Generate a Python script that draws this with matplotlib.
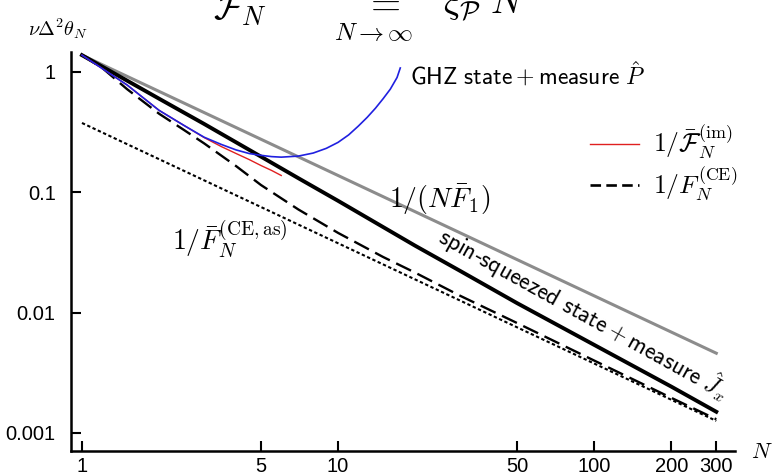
import matplotlib
matplotlib.use('Agg')
import matplotlib.pyplot as plt
from matplotlib.lines import Line2D

plt.rcParams['mathtext.fontset'] = 'cm'
plt.rcParams['font.family'] = ['Liberation Sans', 'DejaVu Sans']

# data (log-log)
n_sql = [1, 300]
v_sql = [1.38, 0.0046]                 # 1/(N F1), grey

n_as = [1, 300]
v_as = [0.377, 0.00126]                # 1/F^(CE,as), dotted

n_ss = [1, 2, 3, 5, 7, 10, 20, 30, 50, 100, 200, 300]
v_ss = [1.38, 0.60, 0.37, 0.198, 0.131, 0.085, 0.036, 0.0222, 0.0120, 0.0054, 0.00243, 0.0015]

n_ce = [1, 1.2, 1.5, 2, 2.5, 3, 4, 5, 7, 10, 15, 20, 30, 50, 100, 200, 300]
v_ce = [1.38, 1.08, 0.72, 0.45, 0.33, 0.255, 0.165, 0.115, 0.072, 0.046, 0.029,
        0.0215, 0.0138, 0.0082, 0.004, 0.00196, 0.0013]

n_im = [1, 1.5, 2, 2.5, 3, 3.5, 4, 4.5, 5, 5.5, 6]
v_im = [1.38, 0.78, 0.48, 0.36, 0.285, 0.24, 0.21, 0.187, 0.167, 0.152, 0.138]

n_ghz = [1, 1.5, 2, 2.5, 3, 3.5, 4, 4.5, 5, 5.5, 6, 7, 8, 9, 10, 11, 12, 13,
         14, 15, 16, 17, 17.5]
v_ghz = [1.38, 0.78, 0.48, 0.36, 0.287, 0.25, 0.225, 0.21, 0.203, 0.198, 0.196,
         0.2, 0.212, 0.232, 0.26, 0.3, 0.355, 0.42, 0.5, 0.6, 0.72, 0.9, 1.08]

x_ticks = [1, 5, 10, 50, 100, 200, 300]
x_labels = ['1', '5', '10', '50', '100', '200', '300']
y_ticks = [1, 0.1, 0.01, 0.001]
y_labels = ['1', '0.1', '0.01', '0.001']

W, H = 778, 476
fig = plt.figure(figsize=(W / 100, H / 100), dpi=100)
ax = fig.add_axes([71 / W, 25 / H, (735 - 71) / W, (451 - 52) / H])

ax.plot(n_sql, v_sql, color='#8c8c8c', lw=2.2, zorder=2)
ax.plot(n_as, v_as, color='black', lw=1.5, linestyle=(0, (1.6, 1.2)), zorder=2)
ax.plot(n_ce, v_ce, color='black', lw=1.7, linestyle=(0, (7, 3)), zorder=3)
ax.plot(n_ss, v_ss, color='black', lw=2.8, zorder=3)
ax.plot(n_im, v_im, color='#e02020', lw=1.0, zorder=4)
ax.plot(n_ghz, v_ghz, color='#2020e0', lw=1.2, zorder=5)

ax.set_xscale('log')
ax.set_yscale('log')
ax.set_xlim(0.906, 355)
ax.set_ylim(7.08e-4, 1.466)
ax.set_xticks(x_ticks)
ax.set_xticklabels(x_labels)
ax.set_yticks(y_ticks)
ax.set_yticklabels(y_labels)
ax.minorticks_off()
ax.tick_params(direction='in', length=7, width=1.5, labelsize=14.5)
ax.tick_params(axis='x', pad=4)
ax.tick_params(axis='y', pad=11)
ax.spines['top'].set_visible(False)
ax.spines['right'].set_visible(False)
ax.spines['left'].set_linewidth(1.8)
ax.spines['bottom'].set_linewidth(1.8)
ax.patch.set_alpha(0)

# legend
handles = [Line2D([], [], color='#e02020', lw=1.0),
           Line2D([], [], color='black', lw=1.9, linestyle=(0, (4, 2)))]
labels = [r'$1/\bar{\mathcal{F}}_N^{(\mathrm{im})}$', r'$1/F_N^{(\mathrm{CE})}$']
fig.legend(handles, labels, loc='center left', bbox_to_anchor=(590 / W, 1 - 163 / H),
           frameon=False, fontsize=18.5, handlelength=1.9, handletextpad=0.55,
           labelspacing=0.12, borderpad=0, borderaxespad=0)

# labels
fig.text(28 / W, 1 - 36 / H, r'$\nu\Delta^2\theta_N$', fontsize=14.5, ha='left', va='baseline')
fig.text(762 / W, 1 - 452 / H, r'$N$', fontsize=16, ha='center', va='center')

# cropped formula along the top
fig.text(213 / W, 1 - 20 / H, r'$\mathcal{F}_N$', fontsize=27, ha='left', va='baseline')
fig.text(364 / W, 1 - 15 / H, r'$=$', fontsize=28, ha='left', va='baseline')
fig.text(374 / W, 1 - 40 / H, r'$N\to\infty$', fontsize=18, ha='center', va='baseline')
fig.text(443 / W, 1 - 14 / H, r'$\xi_{\mathcal{P}}\ N$', fontsize=27, ha='left', va='baseline')

# annotations
fig.text(410 / W, 1 - 75 / H, r'$\mathsf{GHZ\ state} + \mathsf{measure}\ \hat{P}$',
         fontsize=17, ha='left', va='center')
fig.text(440 / W, 1 - 200 / H, r'$1/(N\bar{F}_1)$', fontsize=20, ha='center', va='center')
fig.text(172 / W, 1 - 251 / H, r'$1/\bar{F}_N^{(\mathrm{CE,as})}$', fontsize=20,
         ha='left', va='baseline')
fig.text(584 / W, 1 - 313 / H, r'$\mathsf{spin}$-$\mathsf{squeezed\ state} + \mathsf{measure}\ \hat{J}_x$',
         fontsize=17, ha='center', va='center', rotation=-29, rotation_mode='anchor')

fig.savefig('out.png', dpi=100)
